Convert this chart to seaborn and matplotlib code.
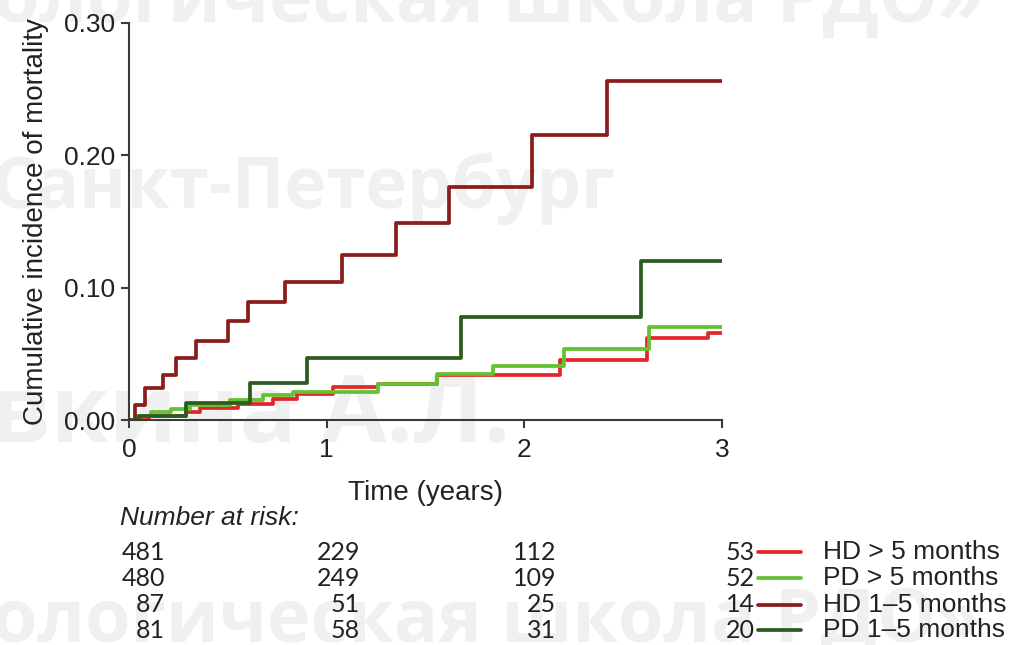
import matplotlib
matplotlib.use("Agg")
import matplotlib.pyplot as plt
from matplotlib.lines import Line2D
import numpy as np
import pandas as pd
import seaborn as sns

# Step data (years, cumulative incidence)
hd_late_t = [0, 0.10, 0.29, 0.36, 0.55, 0.73, 0.85, 1.03, 1.26, 1.56, 2.18, 2.62, 2.93, 3.0]
hd_late_y = [0, 0.003, 0.006, 0.009, 0.012, 0.016, 0.020, 0.025, 0.027, 0.034, 0.045, 0.062, 0.066, 0.066]

pd_late_t = [0, 0.04, 0.11, 0.21, 0.31, 0.51, 0.68, 0.83, 1.26, 1.56, 1.84, 2.20, 2.63, 3.0]
pd_late_y = [0, 0.003, 0.006, 0.008, 0.011, 0.015, 0.019, 0.021, 0.027, 0.035, 0.041, 0.054, 0.070, 0.070]

hd_early_t = [0, 0.03, 0.08, 0.17, 0.24, 0.34, 0.50, 0.60, 0.79, 1.08, 1.35, 1.62, 2.04, 2.42, 3.0]
hd_early_y = [0, 0.011, 0.024, 0.034, 0.047, 0.060, 0.075, 0.089, 0.104, 0.125, 0.149, 0.176, 0.215, 0.256, 0.256]

pd_early_t = [0, 0.05, 0.29, 0.61, 0.90, 1.68, 2.59, 3.0]
pd_early_y = [0, 0.003, 0.013, 0.028, 0.047, 0.078, 0.120, 0.120]

group_labels = ["HD > 5 months", "PD > 5 months", "HD 1\u20135 months", "PD 1\u20135 months"]
group_colors = ["#e3262b", "#63c22f", "#8c1d1d", "#2e5c20"]

# Number at risk at 0, 1, 2, 3 years
risk_times = [0, 1, 2, 3]
risk_hd_late = [481, 229, 112, 53]
risk_pd_late = [480, 249, 109, 52]
risk_hd_early = [87, 51, 25, 14]
risk_pd_early = [81, 58, 31, 20]

x_ticks = [0, 1, 2, 3]
y_ticks = [0.0, 0.10, 0.20, 0.30]

watermark_lines = ["ологическая школа РДО»", "Санкт-Петербург", "вкина А.Л.", "ологическая школа РДО»"]

# long table for seaborn
frames = []
for lab, t, y in zip(group_labels,
                     [hd_late_t, pd_late_t, hd_early_t, pd_early_t],
                     [hd_late_y, pd_late_y, hd_early_y, pd_early_y]):
    frames.append(pd.DataFrame({"time": t, "cif": y, "group": lab}))
df = pd.concat(frames, ignore_index=True)

sns.set_style("ticks")
plt.rcParams["font.family"] = ["Liberation Sans", "DejaVu Sans"]

W, H = 1020, 645
fig = plt.figure(figsize=(W / 100, H / 100), dpi=100)

# faint watermark behind everything
wm_pos = [(-6, 22), (-8, 208), (-10, 442), (-8, 642)]
wm_size = [53, 51, 68, 53]
for txt, (px, py), fs in zip(watermark_lines, wm_pos, wm_size):
    fig.text(px / W, 1 - py / H, txt, fontsize=fs, fontweight="bold",
             family=["Open Sans", "DejaVu Sans"], color="#f0f0f0",
             ha="left", va="baseline", zorder=-10)

ax = fig.add_axes([129 / W, 1 - 420 / H, (722 - 129) / W, (420 - 23) / H])
ax.patch.set_alpha(0)

sns.lineplot(data=df, x="time", y="cif", hue="group", hue_order=group_labels,
             palette=group_colors, estimator=None, sort=False,
             drawstyle="steps-post", linewidth=2.7, legend=False, ax=ax)

ax.set_xlim(0, 3)
ax.set_ylim(0, 0.30)
ax.set_xticks(x_ticks)
ax.set_xticklabels([str(v) for v in x_ticks])
ax.set_yticks(y_ticks)
ax.set_yticklabels([f"{v:.2f}" for v in y_ticks])
ax.tick_params(axis="both", labelsize=19, length=6, width=1.5,
               color="#3a3a3a", labelcolor="#222222", direction="out")
ax.tick_params(axis="x", pad=7)
ax.tick_params(axis="y", pad=4)
for s in ["top", "right"]:
    ax.spines[s].set_visible(False)
for s in ["left", "bottom"]:
    ax.spines[s].set_color("#3a3a3a")
    ax.spines[s].set_linewidth(1.5)

ax.set_xlabel("Time (years)", fontsize=20, labelpad=13, color="#222222")
ax.set_ylabel("Cumulative incidence of mortality", fontsize=20, labelpad=11, color="#222222")

# number at risk table
fig.text(120 / W, 1 - 518 / H, "Number at risk:", fontsize=19, style="italic",
         ha="left", va="center", color="#222222")
risk_rows = [risk_hd_late, risk_pd_late, risk_hd_early, risk_pd_early]
row_y = [552, 578, 605, 630]
col_x = [165, 360, 556, 755]
for vals, ry in zip(risk_rows, row_y):
    for v, cx in zip(vals, col_x):
        fig.text(cx / W, 1 - ry / H, str(v), fontsize=18, family=["Lato", "DejaVu Sans"],
                 ha="right", va="center", color="#222222")

# legend next to the last column
for lab, col, ry in zip(group_labels, group_colors, row_y):
    fig.add_artist(Line2D([758 / W, 801 / W], [1 - ry / H, 1 - ry / H],
                          color=col, linewidth=2.7, transform=fig.transFigure))
    fig.text(823 / W, 1 - ry / H, lab, fontsize=19, ha="left", va="center", color="#222222")

fig.savefig("out.png", dpi=100)
